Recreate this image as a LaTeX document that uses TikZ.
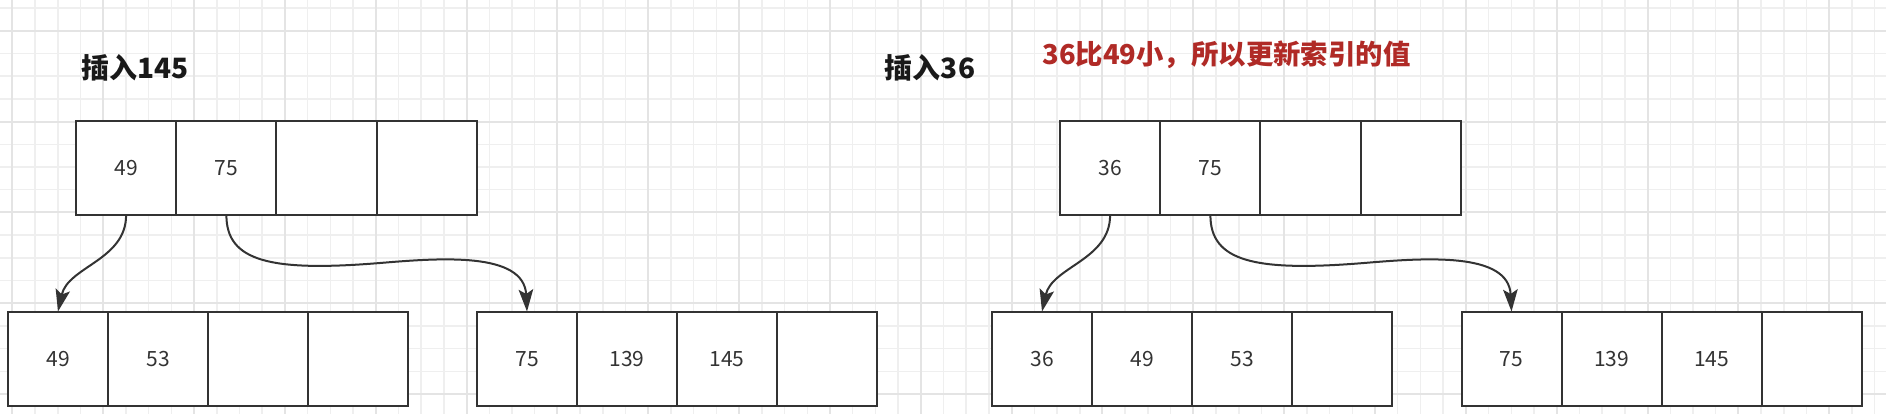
\documentclass[tikz,border=0pt]{standalone}
\usepackage{fontspec}
\setmainfont{Noto Sans CJK SC}
\usetikzlibrary{arrows.meta}
\definecolor{ink}{HTML}{333333}
\definecolor{redtxt}{HTML}{B02A26}
\definecolor{gridminor}{HTML}{EFEFEF}
\definecolor{gridmajor}{HTML}{E4E4E4}
\tikzset{
  cell/.style={draw=ink, line width=2pt, fill=white, minimum width=100.25pt, minimum height=94.5pt,
    inner sep=0pt, outer sep=0pt, font=\fontsize{21}{25}\selectfont, text=ink},
  celll/.style={cell, minimum width=100pt},
  titletxt/.style={font=\fontsize{28}{32}\selectfont\bfseries, text=black!90, inner sep=0pt},
  notetxt/.style={font=\fontsize{27.4}{32}\selectfont\bfseries, text=redtxt, inner sep=0pt},
  conn/.style={draw=ink, line width=2pt, -{Stealth[length=22pt,width=14.5pt,inset=4.5pt]}},
  gminor/.style={draw=gridminor, line width=1.5pt},
  gmajor/.style={draw=gridmajor, line width=2pt}
}
\begin{document}
\begin{tikzpicture}[x=1pt,y=-1pt]
\useasboundingbox (0,0) rectangle (1886,414);
\fill[white] (0,0) rectangle (1886,414);
% grid
\foreach \k in {0,...,83} {
  \pgfmathsetmacro\xx{12.4+\k*22.71}
  \draw[gminor] (\xx,0) -- (\xx,414);
}
\foreach \k in {0,...,18} {
  \pgfmathsetmacro\yy{8+\k*22.71}
  \draw[gminor] (0,\yy) -- (1886,\yy);
}
\foreach \k in {0,...,20} {
  \pgfmathsetmacro\xx{12.4+\k*90.84}
  \draw[gmajor] (\xx,0) -- (\xx,414);
}
\foreach \k in {0,...,4} {
  \pgfmathsetmacro\yy{30.7+\k*90.84}
  \draw[gmajor] (0,\yy) -- (1886,\yy);
}

% titles
\node[titletxt] (t1) at (135,67.5) {插入145};
\node[titletxt] (t2) at (930,67.5) {插入36};
\node[notetxt] (note) at (1226.5,54.5) {36比49小，所以更新索引的值};

% left: top node
\node[cell] (a1) at (126.1,167.9) {49};
\node[cell] (a2) at (226.4,167.9) {75};
\node[cell] (a3) at (326.6,167.9) {};
\node[cell] (a4) at (426.9,167.9) {};
% left: bottom-left leaf
\node[celll] (b1) at (58,358.75) {49};
\node[celll] (b2) at (158,358.75) {53};
\node[celll] (b3) at (258,358.75) {};
\node[celll] (b4) at (358,358.75) {};
% left: bottom-right leaf
\node[celll] (c1) at (527,358.75) {75};
\node[celll] (c2) at (627,358.75) {139};
\node[celll] (c3) at (727,358.75) {145};
\node[celll] (c4) at (827,358.75) {};

% right: top node
\node[cell] (d1) at (1110.1,167.9) {36};
\node[cell] (d2) at (1210.4,167.9) {75};
\node[cell] (d3) at (1310.6,167.9) {};
\node[cell] (d4) at (1410.9,167.9) {};
% right: bottom-left leaf
\node[celll] (e1) at (1042,358.75) {36};
\node[celll] (e2) at (1142,358.75) {49};
\node[celll] (e3) at (1242,358.75) {53};
\node[celll] (e4) at (1342,358.75) {};
% right: bottom-right leaf
\node[celll] (f1) at (1511.5,358.75) {75};
\node[celll] (f2) at (1611.6,358.75) {139};
\node[celll] (f3) at (1711.7,358.75) {145};
\node[celll] (f4) at (1811.8,358.75) {};

% waypoints
\coordinate (m1) at (380,263);
\coordinate (m2) at (1364,263);

% connectors
\draw[conn] (a1.south) .. controls +(0,45) and +(10,-45) .. (b1.north);
\draw[conn] (a2.south) .. controls +(0,46) and +(-110,9) .. (m1)
  .. controls +(60,-5) and +(-3,-60) .. (c1.north);
\draw[conn] (d1.south) .. controls +(0,45) and +(10,-45) .. (e1.north);
\draw[conn] (d2.south) .. controls +(0,46) and +(-110,9) .. (m2)
  .. controls +(60,-5) and +(-3,-60) .. (f1.north);
\end{tikzpicture}
\end{document}
